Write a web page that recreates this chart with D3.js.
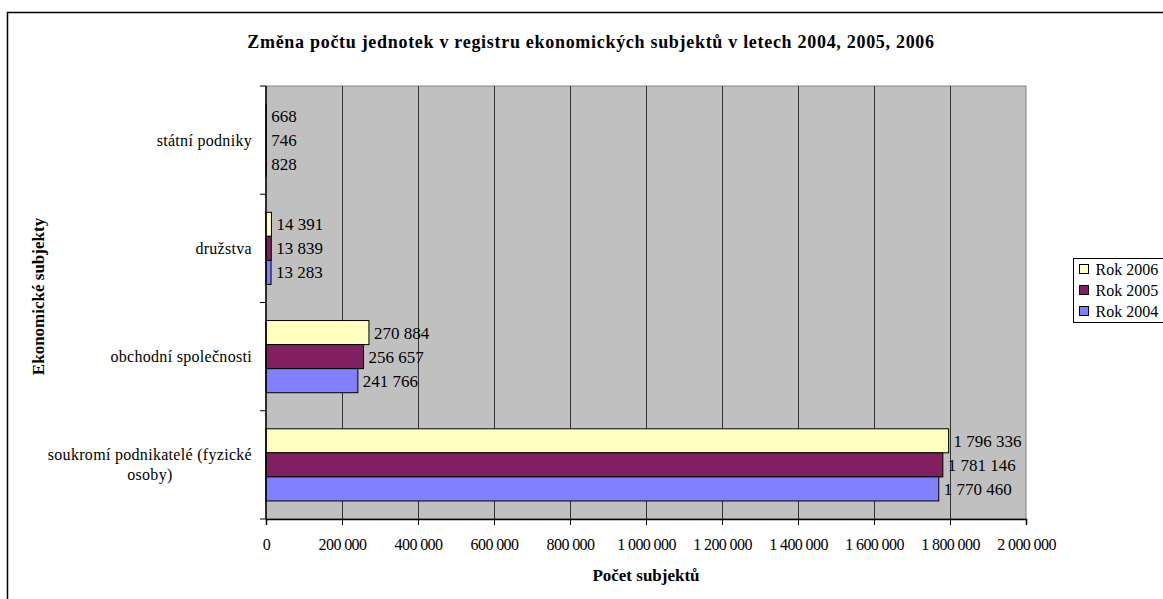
<!DOCTYPE html>
<html>
<head>
<meta charset="utf-8">
<script src="https://cdn.jsdelivr.net/npm/d3@7"></script>
<style>
    html, body { margin: 0; padding: 0; background: #fff; overflow: hidden; }
</style>
</head>
<body>
<script>
// data
var categories = ["státní podniky", "družstva", "obchodní společnosti", "soukromí podnikatelé (fyzické osoby)"];
var seriesNames = ["Rok 2006", "Rok 2005", "Rok 2004"];
var rok2006 = [668, 14391, 270884, 1796336];
var rok2005 = [746, 13839, 256657, 1781146];
var rok2004 = [828, 13283, 241766, 1770460];
var xTickValues = [0, 200000, 400000, 600000, 800000, 1000000, 1200000, 1400000, 1600000, 1800000, 2000000];
var seriesColors = ["#FFFFC0", "#802060", "#8080FF"];

var title = "Změna počtu jednotek v registru ekonomických subjektů v letech 2004, 2005, 2006";
var xTitle = "Počet subjektů";
var yTitle = "Ekonomické subjekty";

var FONT = "'Liberation Serif', 'Times New Roman', 'DejaVu Serif', serif";
var width = 1163, height = 599;
var plot = { left: 266, right: 1026, top: 86, bottom: 519 };

var locale = d3.formatLocale({ decimal: ",", thousands: " ", grouping: [3], currency: ["", ""] });
var fmt = locale.format(",d");

var svg = d3.select("body").append("svg")
    .attr("width", width)
    .attr("height", height)
    .attr("font-family", FONT)
    .style("font-family", FONT);

// outer chart border (runs off the page on the right and bottom)
svg.append("rect")
    .attr("x", 7.5).attr("y", 12.5)
    .attr("width", 1170).attr("height", 600)
    .attr("fill", "#fff")
    .attr("stroke", "#000")
    .attr("stroke-width", 1.5);

var xScale = d3.scaleLinear()
    .domain([0, 2000000])
    .range([plot.left, plot.right]);

var yScale = d3.scaleBand()
    .domain(categories)
    .range([plot.top, plot.bottom]);

// gap width 50% -> group takes 2/3 of the band
var bw = yScale.bandwidth();
var inner = d3.scaleBand()
    .domain(seriesNames)
    .range([bw / 6, bw * 5 / 6]);

// plot area
svg.append("rect")
    .attr("x", plot.left).attr("y", plot.top)
    .attr("width", plot.right - plot.left)
    .attr("height", plot.bottom - plot.top)
    .attr("fill", "#C0C0C0")
    .attr("stroke", "#808080")
    .attr("stroke-width", 1);

// gridlines
svg.append("g")
    .selectAll("line")
    .data(xTickValues.slice(1, -1))
    .enter().append("line")
    .attr("x1", function(d) { return Math.round(xScale(d)) + 0.5; })
    .attr("x2", function(d) { return Math.round(xScale(d)) + 0.5; })
    .attr("y1", plot.top)
    .attr("y2", plot.bottom)
    .attr("stroke", "#333")
    .attr("stroke-width", 1);

// bars
var values = [rok2006, rok2005, rok2004];
var barData = [];
categories.forEach(function(c, i) {
    seriesNames.forEach(function(s, j) {
        barData.push({ cat: c, series: s, value: values[j][i], color: seriesColors[j] });
    });
});

svg.append("g")
    .selectAll("rect")
    .data(barData)
    .enter().append("rect")
    .attr("x", xScale(0))
    .attr("y", function(d) { return yScale(d.cat) + inner(d.series); })
    .attr("width", function(d) { return xScale(d.value) - xScale(0); })
    .attr("height", inner.bandwidth())
    .attr("fill", function(d) { return d.color; })
    .attr("stroke", "#000")
    .attr("stroke-width", 1);

// value labels
svg.append("g")
    .selectAll("text")
    .data(barData)
    .enter().append("text")
    .attr("x", function(d) { return xScale(d.value) + 5; })
    .attr("y", function(d) { return yScale(d.cat) + inner(d.series) + inner.bandwidth() / 2; })
    .attr("dy", "0.35em")
    .style("font-family", FONT)
    .style("font-size", "17px")
    .text(function(d) { return fmt(d.value); });

// x axis
var xAxis = svg.append("g")
    .attr("transform", "translate(0," + plot.bottom + ")")
    .call(d3.axisBottom(xScale)
        .tickValues(xTickValues)
        .tickSize(6)
        .tickPadding(14)
        .tickFormat(fmt));
xAxis.attr("font-family", null);
xAxis.select(".domain").attr("stroke", "#000").attr("stroke-width", 1.5);
xAxis.selectAll(".tick line").attr("stroke", "#000");
xAxis.selectAll("text")
    .style("font-family", FONT)
    .style("font-size", "16px")
    .style("letter-spacing", "-0.6px");

// y axis: ticks sit on category boundaries
var yAxis = svg.append("g").attr("transform", "translate(" + plot.left + ",0)");
yAxis.append("line")
    .attr("x1", 0).attr("x2", 0)
    .attr("y1", plot.top).attr("y2", plot.bottom)
    .attr("stroke", "#000").attr("stroke-width", 1.5);
var bounds = categories.map(function(c) { return yScale(c); }).concat([plot.bottom]);
yAxis.selectAll("line.tk")
    .data(bounds)
    .enter().append("line")
    .attr("class", "tk")
    .attr("x1", -6).attr("x2", 0)
    .attr("y1", function(d) { return d; })
    .attr("y2", function(d) { return d; })
    .attr("stroke", "#000");

// category labels, wrapped and centered as a block ending left of the axis
var labelRight = 252;
categories.forEach(function(c) {
    var t = svg.append("text")
        .style("font-family", FONT)
        .style("font-size", "16px")
        .style("letter-spacing", "0.3px")
        .attr("text-anchor", "middle");
    var words = c.split(" ");
    var lines = [];
    var line = [];
    var probe = svg.append("text").style("font-family", FONT).style("font-size", "16px")
        .style("letter-spacing", "0.3px");
    words.forEach(function(w) {
        line.push(w);
        probe.text(line.join(" "));
        if (probe.node().getComputedTextLength() > 210 && line.length > 1) {
            line.pop();
            lines.push(line.join(" "));
            line = [w];
        }
    });
    lines.push(line.join(" "));
    var maxW = 0;
    lines.forEach(function(l) {
        probe.text(l);
        maxW = Math.max(maxW, probe.node().getComputedTextLength());
    });
    probe.remove();
    var cx = labelRight - maxW / 2;
    var cy = yScale(c) + bw / 2;
    var lh = 20;
    lines.forEach(function(l, i) {
        t.append("tspan")
            .attr("x", cx)
            .attr("y", cy + (i - (lines.length - 1) / 2) * lh)
            .attr("dy", "0.35em")
            .text(l);
    });
});

// title
svg.append("text")
    .attr("x", 591)
    .attr("y", 48)
    .attr("text-anchor", "middle")
    .style("font-family", FONT)
    .style("font-size", "18px")
    .style("font-weight", "bold")
    .style("letter-spacing", "0.7px")
    .text(title);

// axis titles
svg.append("text")
    .attr("x", 646)
    .attr("y", 581)
    .attr("text-anchor", "middle")
    .style("font-family", FONT)
    .style("font-size", "17px")
    .style("font-weight", "bold")
    .text(xTitle);

svg.append("text")
    .attr("transform", "translate(44," + ((plot.top + plot.bottom) / 2 - 6) + ") rotate(-90)")
    .attr("text-anchor", "middle")
    .style("font-family", FONT)
    .style("font-size", "17px")
    .style("font-weight", "bold")
    .text(yTitle);

// legend
var legend = svg.append("g").attr("transform", "translate(1073.5,258.5)");
legend.append("rect")
    .attr("width", 120).attr("height", 64)
    .attr("fill", "#fff")
    .attr("stroke", "#000");
seriesNames.forEach(function(s, i) {
    var cy = 11 + i * 21;
    legend.append("rect")
        .attr("x", 6).attr("y", cy - 5)
        .attr("width", 9).attr("height", 9)
        .attr("fill", seriesColors[i])
        .attr("stroke", "#000");
    legend.append("text")
        .attr("x", 22).attr("y", cy)
        .attr("dy", "0.35em")
        .style("font-family", FONT)
        .style("font-size", "16px")
        .text(s);
});
</script>
</body>
</html>
